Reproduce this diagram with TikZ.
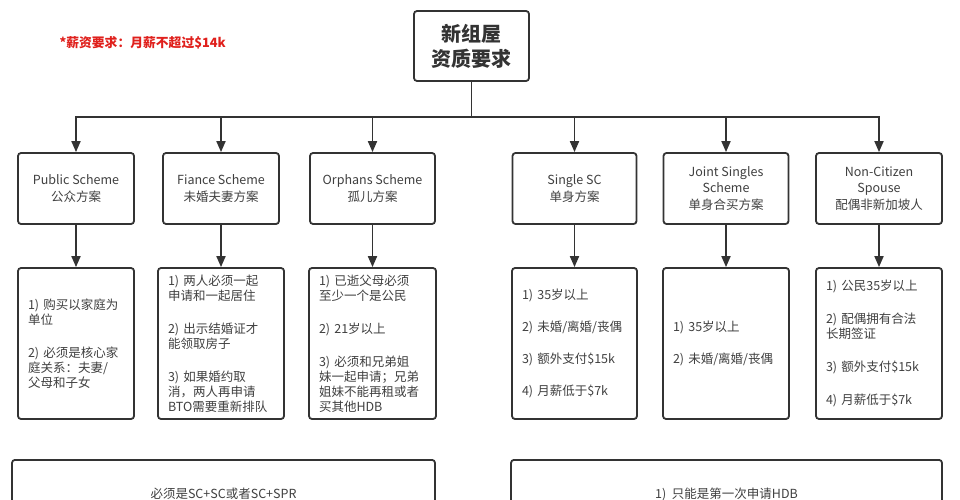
\documentclass[tikz,border=0pt]{standalone}
\usepackage{fontspec}
\setmainfont{Noto Sans CJK SC}
\usetikzlibrary{arrows.meta}
\definecolor{linegray}{HTML}{333333}
\definecolor{txtgray}{HTML}{404040}
\definecolor{notered}{HTML}{E0201C}
\begin{document}
\begin{tikzpicture}[x=1pt, y=-1pt, >={Triangle[width=9pt,length=11pt]},
  box/.style={draw=linegray, line width=1.8pt, rounded corners=3pt, fill=white},
  headbox/.style={box, minimum width=115pt, minimum height=70pt, align=center, text=linegray, font=\fontsize{20}{25}\selectfont\bfseries},
  scheme/.style={box, minimum height=71pt, align=center, text=txtgray, font=\fontsize{12.5}{16.5}\selectfont, inner sep=0pt},
  detail/.style={box, minimum height=151pt, text width=#1, align=left, text=txtgray, font=\fontsize{12.5}{15}\selectfont, inner xsep=10pt, inner ysep=0pt},
  bottom/.style={box, anchor=north, align=center, text=txtgray, font=\fontsize{12.5}{15}\selectfont, inner ysep=28pt},
  link/.style={draw=linegray, line width=1.8pt}]
\useasboundingbox (0,0) rectangle (960,500);
\fill[white] (0,0) rectangle (960,500);
\clip (0,0) rectangle (960,500);

\node[text=notered, font=\fontsize{12.8}{15}\selectfont\bfseries, anchor=west] (note) at (56,43) {*薪资要求：月薪不超过\$14k};
\node[headbox] (title) at (471.5,46) {新组屋\\资质要求};
\coordinate (bus) at (471.5,117);

\node[scheme, minimum width=116pt] (pub) at (76,188.5) {Public Scheme\\公众方案};
\node[scheme, minimum width=116pt] (fia) at (221,188.5) {Fiance Scheme\\未婚夫妻方案};
\node[scheme, minimum width=125pt] (orp) at (372.5,188.5) {Orphans Scheme\\孤儿方案};
\node[scheme, minimum width=124pt] (sgl) at (574.5,188.5) {Single SC\\单身方案};
\node[scheme, minimum width=125pt] (jnt) at (726,188.5) {Joint Singles\\Scheme\\单身合买方案};
\node[scheme, minimum width=126pt] (ncs) at (879,188.5) {Non-Citizen\\Spouse\\配偶非新加坡人};

\node[detail=96pt] (pubd) at (76,343.5) {1) 购买以家庭为\\单位\\[18pt]2) 必须是核心家\\庭关系：夫妻/\\父母和子女};
\node[detail=106pt] (fiad) at (221,343.5) {1) 两人必须一起\\申请和一起居住\\[18pt]2) 出示结婚证才\\能领取房子\\[18pt]3) 如果婚约取\\消，两人再申请\\BTO需要重新排队};
\node[detail=107pt] (orpd) at (372.5,343.5) {1) 已逝父母必须\\至少一个是公民\\[18pt]2) 21岁以上\\[18pt]3) 必须和兄弟姐\\妹一起申请；兄弟\\姐妹不能再租或者\\买其他HDB};
\node[detail=105pt] (sgld) at (574.5,343.5) {1) 35岁以上\\[17pt]2) 未婚/离婚/丧偶\\[17pt]3) 额外支付\$15k\\[17pt]4) 月薪低于\$7k};
\node[detail=106pt] (jntd) at (726,343.5) {1) 35岁以上\\[17pt]2) 未婚/离婚/丧偶};
\node[detail=106pt] (ncsd) at (879,343.5) {1) 公民35岁以上\\[18pt]2) 配偶拥有合法\\长期签证\\[18pt]3) 额外支付\$15k\\[18pt]4) 月薪低于\$7k};

\node[bottom, minimum width=423pt] (cond) at (223.5,459) {必须是SC+SC或者SC+SPR};
\node[bottom, minimum width=431pt] (first) at (726.5,459) {1)~~只能是第一次申请HDB};

\foreach \s in {pub,fia,orp,sgl,jnt,ncs}
  \draw[link,->] (title) -- (bus) -| (\s);
\foreach \s in {pub,fia,orp,sgl,jnt,ncs}
  \draw[link,->] (\s) -- (\s d);
\end{tikzpicture}
\end{document}
